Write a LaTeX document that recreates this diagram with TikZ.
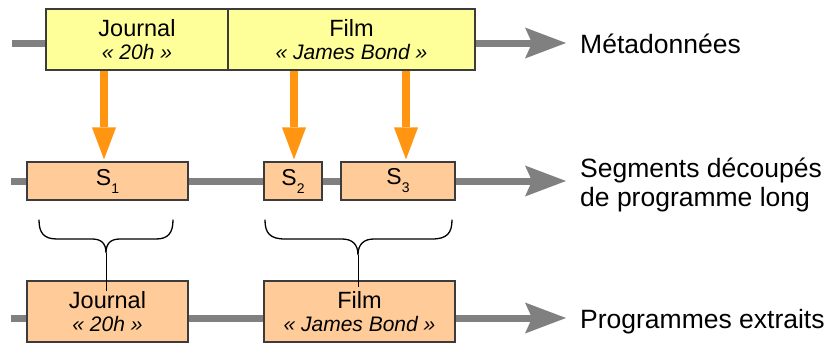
\documentclass[tikz,border=0pt]{standalone}
\usepackage{fontspec}
\setmainfont{Liberation Sans}
\usetikzlibrary{arrows.meta,shadows,calc}
\definecolor{tlgray}{HTML}{808080}
\definecolor{bordergray}{HTML}{3C3C3C}
\definecolor{metafill}{HTML}{FFFF99}
\definecolor{segfill}{HTML}{FFCC99}
\definecolor{arrorange}{RGB}{255,149,17}
\newcommand\subn[1]{\raisebox{-8pt}{\fontsize{14}{14}\selectfont #1}}
\begin{document}
\begin{tikzpicture}[x=1pt,y=-1pt,
  timeline/.style={draw=tlgray, line width=7pt,
    -{Stealth[length=41pt,width=31pt,inset=7pt,line width=0pt]}},
  boxbase/.style={draw=bordergray, line width=1.1pt, inner sep=0pt,
    drop shadow={shadow xshift=1.2pt, shadow yshift=-1.2pt, fill=black!30, opacity=0.6},
    align=center, font=\fontsize{23.5}{23}\selectfont},
  metabox/.style={boxbase, fill=metafill, minimum height=61pt},
  segbox/.style={boxbase, fill=segfill, minimum height=38pt, font=\fontsize{23}{23}\selectfont},
  progbox/.style={boxbase, fill=segfill, minimum height=61pt},
  oarrow/.style={draw=arrorange, line width=8pt,
    -{Triangle[length=32pt,width=24pt,line width=0pt]}},
  bracepath/.style={draw=black, line width=1.3pt, line cap=round},
  tipline/.style={draw=black, line width=1pt},
  lbl/.style={inner sep=0pt, anchor=base west, font=\fontsize{26.5}{29}\selectfont}
]
\useasboundingbox (0,0) rectangle (831,343);

% timelines
\coordinate (t0) at (12,43);   \coordinate (t1) at (566,43);
\coordinate (m0) at (11,181);  \coordinate (m1) at (566,181);
\coordinate (p0) at (11,318);  \coordinate (p1) at (566,318);
\draw[timeline] (t0) -- (t1);
\draw[timeline] (m0) -- (m1);
\draw[timeline] (p0) -- (p1);

% metadata boxes
\node[metabox, minimum width=182pt] (J) at (137,39.5)
  {Journal\\{\fontsize{21}{23}\selectfont\itshape «~20h~»}};
\node[metabox, minimum width=247pt] (F) at (351.5,39.5)
  {Film\\{\fontsize{21}{23}\selectfont\itshape «~James Bond~»}};

% segments
\node[segbox, minimum width=161pt] (s1) at (107.5,181) {S\subn{1}};
\node[segbox, minimum width=58pt]  (s2) at (293,181)   {S\subn{2}};
\node[segbox, minimum width=114pt] (s3) at (398,181)   {S\subn{3}};

% extracted programmes
\node[progbox, minimum width=161pt] (pj) at (107.5,311.5)
  {Journal\\{\fontsize{21}{23}\selectfont\itshape «~20h~»}};
\node[progbox, minimum width=191pt] (pf) at (359.5,311.5)
  {Film\\{\fontsize{21}{23}\selectfont\itshape «~James Bond~»}};

% orange arrows
\coordinate (a1) at (104,0);
\coordinate (a2) at (294,0);
\coordinate (a3) at (406,0);
\draw[oarrow] (J.south -| a1) -- ($(s1.north -| a1)+(0,-2)$);
\draw[oarrow] (F.south -| a2) -- ($(s2.north -| a2)+(0,-2)$);
\draw[oarrow] (F.south -| a3) -- ($(s3.north -| a3)+(0,-2)$);

% braces
\coordinate (b1) at (106,253);
\coordinate (b2) at (358,255);
\draw[bracepath] (39,220) .. controls (39,233) and (44,239) .. (57,239)
  -- (92,239) .. controls (101,239) and (106,243) .. (b1)
  .. controls (106,243) and (111,239) .. (120,239)
  -- (156,239) .. controls (168,239) and (173,233) .. (173,220);
\draw[bracepath] (265,220) .. controls (265,233) and (270,239) .. (285,239)
  -- (342,239) .. controls (352,239) and (358,244) .. (b2)
  .. controls (358,244) and (364,239) .. (374,239)
  -- (432,239) .. controls (447,239) and (452,233) .. (452,220);
\draw[tipline] (b1) -- ($(b1 |- pj.north)+(0,11)$);
\draw[tipline] (b2) -- ($(b2 |- pf.north)+(0,7)$);

% labels
\node[lbl] (meta) at (580,53) {Métadonnées};
\node[lbl] (seg1) at (580,177) {Segments découpés};
\node[lbl] (seg2) at (580,206.5) {de programme long};
\node[lbl] (prog) at (580,328) {Programmes extraits};
\end{tikzpicture}
\end{document}
